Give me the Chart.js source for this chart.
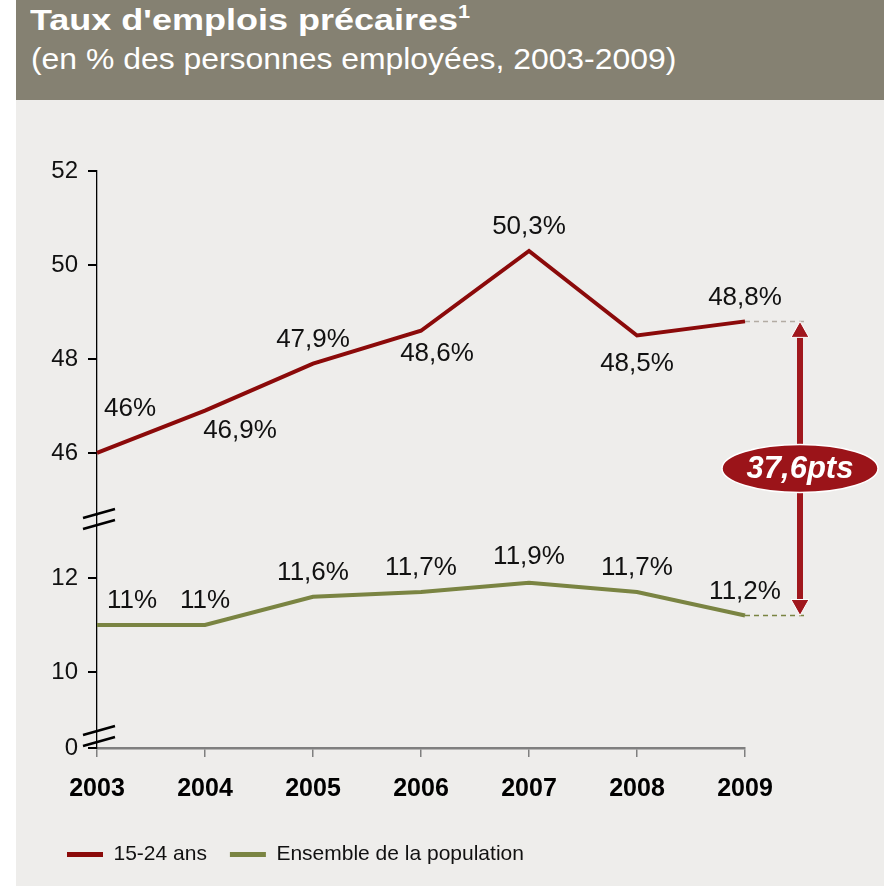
<!DOCTYPE html>
<html lang="fr">
<head>
<meta charset="utf-8">
<script src="https://cdn.jsdelivr.net/npm/chart.js@4.4.1/dist/chart.umd.min.js"></script>
<style>
  body { margin: 0; width: 896px; height: 886px; position: relative; overflow: hidden; background: #fff;
         font-family: "Liberation Sans", Arial, sans-serif; }
  #entete { position: absolute; left: 16px; top: 0; width: 868px; height: 100px; background: #858172; color: #fff; }
  #titre { position: absolute; left: 14px; top: 3px; font-size: 30px; font-weight: bold; white-space: nowrap;
           transform: scaleX(1.2); transform-origin: left top; }
  #titre sup { font-size: 18px; vertical-align: 12px; line-height: 0; }
  #sous-titre { position: absolute; left: 15px; top: 42px; font-size: 30px; white-space: nowrap;
                transform: scaleX(1.063); transform-origin: left top; }
  #panneau { position: absolute; left: 16px; top: 100px; width: 868px; height: 786px; background: #eeedeb; }
  #graphique { display: block; }
</style>
</head>
<body>
<div id="entete">
  <div id="titre">Taux d'emplois précaires<sup>1</sup></div>
  <div id="sous-titre">(en % des personnes employées, 2003-2009)</div>
</div>
<div id="panneau"><canvas id="graphique" width="868" height="786"></canvas></div>
<script>
// données
const annees = ['2003', '2004', '2005', '2006', '2007', '2008', '2009'];
const jeunes = [46, 46.9, 47.9, 48.6, 50.3, 48.5, 48.8];          // 15-24 ans
const ensemble = [11, 11, 11.6, 11.7, 11.9, 11.7, 11.2];         // ensemble de la population
const ticksHaut = [46, 48, 50, 52];
const ticksBas = [10, 12];
// bornes des deux morceaux de l'axe coupé
const HAUT_MIN = 44.68, HAUT_MAX = 52;
const BAS_MIN = 8.38, BAS_MAX = 13.34;

const ROUGE = '#8b0a0a';
const VERT = '#7a8442';
const POLICE = '"Liberation Sans", Arial, sans-serif';

function formatPct(v) {
    return String(v).replace('.', ',') + '%';
}

// étiquettes de valeurs (décalages en px par point)
const etiquettes = {
    id: 'etiquettes',
    afterDatasetsDraw(chart) {
        const ctx = chart.ctx;
        ctx.save();
        ctx.font = '26px ' + POLICE;
        ctx.fillStyle = '#111';
        ctx.textAlign = 'center';
        ctx.textBaseline = 'middle';
        chart.data.datasets.forEach((ds, i) => {
            const meta = chart.getDatasetMeta(i);
            meta.data.forEach((pt, j) => {
                const d = ds.decalages[j];
                ctx.fillText(formatPct(ds.data[j]), pt.x + d[0], pt.y + d[1]);
            });
        });
        ctx.restore();
    }
};

// coupures de l'axe, pointillés et flèche de l'écart
const decor = {
    id: 'decor',
    afterDraw(chart) {
        const ctx = chart.ctx;
        const sx = chart.scales.x, yH = chart.scales.yHaut, yB = chart.scales.yBas;
        const x0 = chart.chartArea.left;

        ctx.save();
        ctx.strokeStyle = '#000';
        ctx.lineWidth = 2.5;
        [yH.bottom + 4, yB.bottom - 12].forEach(cy => {
            ctx.beginPath();
            ctx.moveTo(x0 - 14, cy - 1); ctx.lineTo(x0 + 18, cy - 10);
            ctx.moveTo(x0 - 14, cy + 10); ctx.lineTo(x0 + 18, cy + 1);
            ctx.stroke();
        });

        const n = annees.length - 1;
        const xp = sx.getPixelForValue(n);
        const xf = xp + 55;
        const yHaut = yH.getPixelForValue(jeunes[n]);
        const yBas = yB.getPixelForValue(ensemble[n]);

        ctx.lineWidth = 1.5;
        ctx.setLineDash([5, 4]);
        ctx.strokeStyle = '#b3aca3';
        ctx.beginPath(); ctx.moveTo(xp, yHaut); ctx.lineTo(xf + 6, yHaut); ctx.stroke();
        ctx.strokeStyle = VERT;
        ctx.beginPath(); ctx.moveTo(xp, yBas); ctx.lineTo(xf + 6, yBas); ctx.stroke();
        ctx.setLineDash([]);

        const fonce = '#a0171d';
        ctx.fillStyle = fonce;
        ctx.fillRect(xf - 3, yHaut + 14, 6, yBas - yHaut - 28);
        ctx.strokeStyle = '#fff';
        ctx.lineWidth = 1;
        ctx.beginPath();
        ctx.moveTo(xf, yHaut); ctx.lineTo(xf - 9, yHaut + 16); ctx.lineTo(xf + 9, yHaut + 16); ctx.closePath();
        ctx.fill(); ctx.stroke();
        ctx.beginPath();
        ctx.moveTo(xf, yBas); ctx.lineTo(xf - 9, yBas - 16); ctx.lineTo(xf + 9, yBas - 16); ctx.closePath();
        ctx.fill(); ctx.stroke();

        const ym = (yHaut + yBas) / 2;
        ctx.beginPath();
        ctx.ellipse(xf, ym, 78, 24, 0, 0, Math.PI * 2);
        ctx.fillStyle = '#9b1419';
        ctx.fill();
        ctx.lineWidth = 1.5;
        ctx.stroke();

        const ecart = (jeunes[n] - ensemble[n]).toFixed(1).replace('.', ',');
        ctx.fillStyle = '#fff';
        ctx.font = 'italic bold 31px ' + POLICE;
        ctx.textAlign = 'center';
        ctx.textBaseline = 'middle';
        ctx.fillText(ecart + 'pts', xf, ym + 1);
        ctx.restore();
    }
};

const axeY = {
    type: 'linear',
    position: 'left',
    stack: 'gauche',
    border: { display: true, color: '#000', width: 1.3 },
    grid: { drawOnChartArea: false, drawTicks: true, tickLength: 9, color: '#000', lineWidth: 2 },
    afterFit(scale) { scale.width = 53; }
};

new Chart(document.getElementById('graphique'), {
    type: 'line',
    data: {
        labels: annees,
        datasets: [{
            label: '15-24 ans',
            data: jeunes,
            yAxisID: 'yHaut',
            borderColor: ROUGE,
            backgroundColor: ROUGE,
            borderWidth: 4,
            pointRadius: 0,
            tension: 0,
            decalages: [[33, -44], [35, 20], [0, -24], [16, 23], [0, -24], [0, 28], [0, -24]]
        }, {
            label: 'Ensemble de la population',
            data: ensemble,
            yAxisID: 'yBas',
            borderColor: VERT,
            backgroundColor: VERT,
            borderWidth: 4,
            pointRadius: 0,
            tension: 0,
            decalages: [[35, -24], [0, -24], [0, -24], [0, -24], [0, -26], [0, -24], [0, -24]]
        }]
    },
    options: {
        responsive: false,
        animation: false,
        devicePixelRatio: 1,
        layout: { padding: { left: 28, right: 139, top: 71, bottom: 11 } },
        plugins: {
            legend: {
                position: 'bottom',
                align: 'start',
                labels: {
                    boxWidth: 36,
                    boxHeight: 5,
                    padding: 23,
                    color: '#111',
                    font: { size: 21, family: POLICE },
                    generateLabels(chart) {
                        return Chart.defaults.plugins.legend.labels.generateLabels(chart)
                            .map(l => Object.assign(l, { lineWidth: 0 }));
                    }
                }
            },
            tooltip: { enabled: false }
        },
        scales: {
            x: {
                type: 'category',
                offset: false,
                border: { display: true, color: '#7f7f7f', width: 2.5 },
                grid: { drawOnChartArea: false, drawTicks: true, tickLength: 9, color: '#7f7f7f', lineWidth: 1.5 },
                ticks: { color: '#000', font: { size: 25, weight: 'bold', family: POLICE }, padding: 17, maxRotation: 0 },
                afterFit(scale) { scale.height = 73; }
            },
            yBas: Object.assign({}, axeY, {
                min: BAS_MIN, max: BAS_MAX, stackWeight: 233,
                afterBuildTicks(scale) {
                    scale.ticks = [{ value: BAS_MIN }].concat(ticksBas.map(v => ({ value: v })));
                },
                ticks: {
                    color: '#111', padding: 10, font: { size: 24, family: POLICE },
                    callback: v => (v === BAS_MIN ? '0' : v)
                }
            }),
            yHaut: Object.assign({}, axeY, {
                min: HAUT_MIN, max: HAUT_MAX, stackWeight: 344,
                afterBuildTicks(scale) {
                    scale.ticks = ticksHaut.map(v => ({ value: v }));
                },
                ticks: { color: '#111', padding: 10, font: { size: 24, family: POLICE } }
            })
        }
    },
    plugins: [etiquettes, decor]
});
</script>
</body>
</html>
